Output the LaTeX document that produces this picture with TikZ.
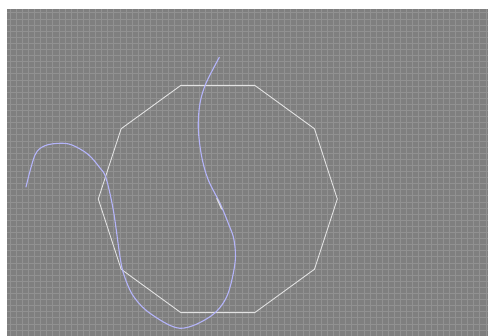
\documentclass[tikz,border=0pt]{standalone}
\usepackage{xcolor}
\usepackage{tikz}
\usetikzlibrary{shapes.geometric}
\definecolor{bgc}{HTML}{7F7F7F}
\definecolor{gridc}{HTML}{919191}
\definecolor{polyc}{HTML}{E2E2E2}
\definecolor{curvc}{HTML}{B4B4FA}
\tikzset{
  poly/.style={draw=polyc,line width=0.9pt,regular polygon,regular polygon sides=10,minimum size=239pt,inner sep=0pt,outer sep=0pt},
  curv/.style={curvc,line width=1.1pt,line cap=round}
}

\begin{document}
\begin{tikzpicture}[x=1pt,y=1pt]
\useasboundingbox (0,0) rectangle (488,336);
\fill[white] (0,0) rectangle (488,336);
\fill[bgc] (7,0) rectangle (488,327);
\draw[gridc,line width=0.5pt,shift={(10,323.3)},step=6.1] (-3,-323.3) grid (478,3.7);
\node[poly] (deca) at (217.8,137) {};
\draw[curv] plot[smooth,tension=0.55] coordinates {(26,149) (35,181) (45,190.3) (60,192.7) (72,191) (88,181.7) (100,168) (106,158) (113.3,126) (120,79.3) (124,61) (133.3,40) (150,22.7) (180,7.7) (210,19.3) (226.7,39.3) (235,73) (234,96) (228.3,112.7) (220,132.7) (208.3,156) (201.7,179.3) (198.3,207.7) (200,232.7) (206,252.7) (219.3,278.7)};
\draw[polyc,line width=1pt] (216.7,137.7) -- (221.7,126.7);
\end{tikzpicture}
\end{document}
